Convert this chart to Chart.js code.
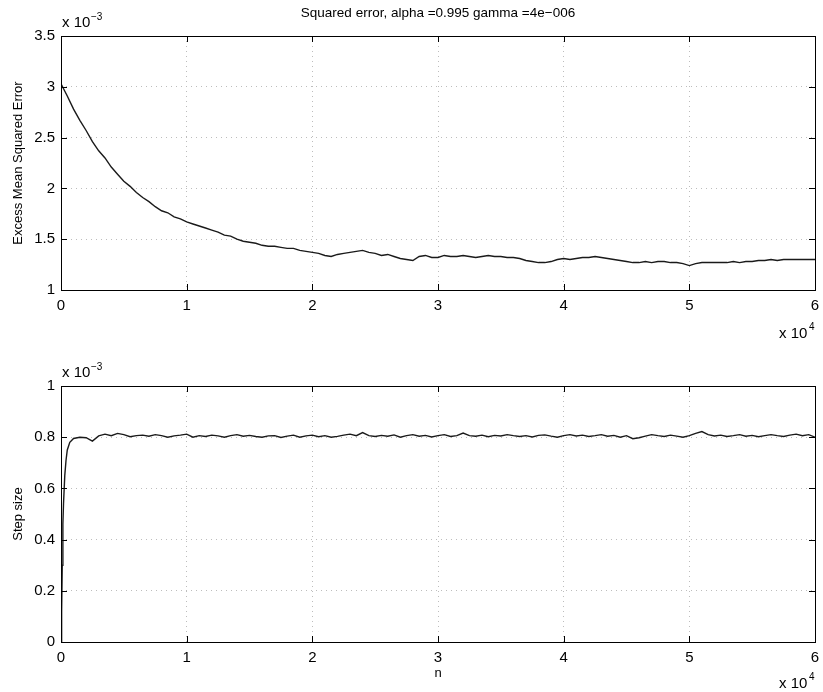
<!DOCTYPE html>
<html>
<head>
<meta charset="utf-8">
<script src="https://cdn.jsdelivr.net/npm/chart.js@4.4.1/dist/chart.umd.min.js"></script>
<style>
  html, body { margin: 0; padding: 0; background: #fff; }
  #wrap { position: relative; width: 823px; height: 692px; }
  .box { position: absolute; left: 0; width: 823px; height: 346px; }
</style>
</head>
<body>
<div id="wrap">
  <div class="box" style="top:0"><canvas id="mse-chart" width="823" height="346"></canvas></div>
  <div class="box" style="top:346px"><canvas id="step-chart" width="823" height="346"></canvas></div>
</div>
<script>
// n in units of 1e4, values in units of 1e-3
const mseN = [
  0, 0.05, 0.1, 0.15, 0.2, 0.25, 0.3, 0.35, 0.4, 0.45,
  0.5, 0.55, 0.6, 0.65, 0.7, 0.75, 0.8, 0.85, 0.9, 0.95,
  1, 1.05, 1.1, 1.15, 1.2, 1.25, 1.3, 1.35, 1.4, 1.45,
  1.5, 1.55, 1.6, 1.65, 1.7, 1.75, 1.8, 1.85, 1.9, 1.95,
  2, 2.05, 2.1, 2.15, 2.2, 2.25, 2.3, 2.35, 2.4, 2.45,
  2.5, 2.55, 2.6, 2.65, 2.7, 2.75, 2.8, 2.85, 2.9, 2.95,
  3, 3.05, 3.1, 3.15, 3.2, 3.25, 3.3, 3.35, 3.4, 3.45,
  3.5, 3.55, 3.6, 3.65, 3.7, 3.75, 3.8, 3.85, 3.9, 3.95,
  4, 4.05, 4.1, 4.15, 4.2, 4.25, 4.3, 4.35, 4.4, 4.45,
  4.5, 4.55, 4.6, 4.65, 4.7, 4.75, 4.8, 4.85, 4.9, 4.95,
  5, 5.05, 5.1, 5.15, 5.2, 5.25, 5.3, 5.35, 5.4, 5.45,
  5.5, 5.55, 5.6, 5.65, 5.7, 5.75, 5.8, 5.85, 5.9, 5.95,
  6
];
const mseValues = [
  3.03, 2.91, 2.78, 2.67, 2.57, 2.46, 2.37, 2.30, 2.21, 2.14,
  2.07, 2.02, 1.96, 1.91, 1.87, 1.82, 1.78, 1.76, 1.72, 1.70,
  1.67, 1.65, 1.63, 1.61, 1.59, 1.57, 1.54, 1.53, 1.50, 1.48,
  1.47, 1.46, 1.44, 1.43, 1.43, 1.42, 1.41, 1.41, 1.39, 1.38,
  1.37, 1.36, 1.34, 1.33, 1.35, 1.36, 1.37, 1.38, 1.39, 1.37,
  1.36, 1.34, 1.35, 1.33, 1.31, 1.30, 1.29, 1.33, 1.34, 1.32,
  1.32, 1.34, 1.33, 1.33, 1.34, 1.33, 1.32, 1.33, 1.34, 1.33,
  1.33, 1.32, 1.32, 1.31, 1.29, 1.28, 1.27, 1.27, 1.28, 1.30,
  1.31, 1.30, 1.31, 1.32, 1.32, 1.33, 1.32, 1.31, 1.30, 1.29,
  1.28, 1.27, 1.27, 1.28, 1.27, 1.28, 1.28, 1.27, 1.27, 1.26,
  1.24, 1.26, 1.27, 1.27, 1.27, 1.27, 1.27, 1.28, 1.27, 1.28,
  1.28, 1.29, 1.29, 1.30, 1.29, 1.30, 1.30, 1.30, 1.30, 1.30,
  1.30
];

const stepN = [
  0, 0.005, 0.01, 0.015, 0.02, 0.03, 0.04, 0.05, 0.07, 0.1,
  0.15, 0.2, 0.25, 0.3, 0.35, 0.4, 0.45, 0.5, 0.55, 0.6,
  0.65, 0.7, 0.75, 0.8, 0.85, 0.9, 0.95, 1, 1.05, 1.1,
  1.15, 1.2, 1.25, 1.3, 1.35, 1.4, 1.45, 1.5, 1.55, 1.6,
  1.65, 1.7, 1.75, 1.8, 1.85, 1.9, 1.95, 2, 2.05, 2.1,
  2.15, 2.2, 2.25, 2.3, 2.35, 2.4, 2.45, 2.5, 2.55, 2.6,
  2.65, 2.7, 2.75, 2.8, 2.85, 2.9, 2.95, 3, 3.05, 3.1,
  3.15, 3.2, 3.25, 3.3, 3.35, 3.4, 3.45, 3.5, 3.55, 3.6,
  3.65, 3.7, 3.75, 3.8, 3.85, 3.9, 3.95, 4, 4.05, 4.1,
  4.15, 4.2, 4.25, 4.3, 4.35, 4.4, 4.45, 4.5, 4.55, 4.6,
  4.65, 4.7, 4.75, 4.8, 4.85, 4.9, 4.95, 5, 5.05, 5.1,
  5.15, 5.2, 5.25, 5.3, 5.35, 5.4, 5.45, 5.5, 5.55, 5.6,
  5.65, 5.7, 5.75, 5.8, 5.85, 5.9, 5.95, 6
];
const stepValues = [
  0, 0.12, 0.30, 0.46, 0.54, 0.65, 0.71, 0.75, 0.78, 0.795,
  0.80, 0.798, 0.785, 0.805, 0.812, 0.806, 0.815, 0.81, 0.802, 0.806,
  0.808, 0.804, 0.81, 0.806, 0.80, 0.805, 0.808, 0.812, 0.80, 0.806,
  0.803, 0.808, 0.805, 0.80, 0.806, 0.81, 0.804, 0.807, 0.803, 0.80,
  0.805, 0.806, 0.799, 0.804, 0.808, 0.80, 0.805, 0.808, 0.802, 0.806,
  0.80, 0.803, 0.808, 0.812, 0.806, 0.818, 0.806, 0.803, 0.807, 0.804,
  0.809, 0.80, 0.806, 0.81, 0.804, 0.807, 0.801, 0.806, 0.81, 0.803,
  0.806, 0.816, 0.806, 0.804, 0.808, 0.802, 0.807, 0.805, 0.81, 0.806,
  0.803, 0.806, 0.801, 0.807, 0.809, 0.804, 0.80, 0.806, 0.81, 0.805,
  0.808, 0.803, 0.806, 0.81, 0.804, 0.807, 0.80, 0.806, 0.794, 0.798,
  0.804, 0.81, 0.806, 0.803, 0.808, 0.804, 0.80, 0.806, 0.815, 0.822,
  0.81, 0.805, 0.808, 0.803, 0.806, 0.81, 0.804, 0.807, 0.802, 0.806,
  0.81, 0.806, 0.803, 0.808, 0.812, 0.806, 0.81, 0.80
];

const xTicks = [0, 1, 2, 3, 4, 5, 6];
const mseTicks = [1, 1.5, 2, 2.5, 3, 3.5];
const stepTicks = [0, 0.2, 0.4, 0.6, 0.8, 1];

const titleText = "Squared error, alpha =0.995 gamma =4e\u2212006";
const FONT = "'Liberation Sans', Arial, Helvetica, sans-serif";

// =========================
// MATLAB-like frame, inward ticks, exponent labels
// =========================
const framePlugin = {
  id: "frame",
  afterDraw(chart, args, opts) {
    const { ctx, chartArea: a } = chart;
    const xs = chart.scales.x, ys = chart.scales.y;
    ctx.save();
    ctx.strokeStyle = "#000";
    ctx.lineWidth = 1;
    ctx.strokeRect(a.left + 0.5, a.top + 0.5, a.right - a.left, a.bottom - a.top);
    ctx.beginPath();
    xs.ticks.forEach(t => {
      const px = Math.round(xs.getPixelForValue(t.value)) + 0.5;
      ctx.moveTo(px, a.bottom); ctx.lineTo(px, a.bottom - 6);
      ctx.moveTo(px, a.top); ctx.lineTo(px, a.top + 6);
    });
    ys.ticks.forEach(t => {
      const py = Math.round(ys.getPixelForValue(t.value)) + 0.5;
      ctx.moveTo(a.left, py); ctx.lineTo(a.left + 6, py);
      ctx.moveTo(a.right, py); ctx.lineTo(a.right - 6, py);
    });
    ctx.stroke();

    ctx.fillStyle = "#000";
    ctx.textBaseline = "alphabetic";
    ctx.textAlign = "left";
    // y exponent
    ctx.font = "15px " + FONT;
    ctx.fillText("x 10", a.left + 1, a.top - 9);
    ctx.font = "10px " + FONT;
    ctx.fillText("\u22123", a.left + 30, a.top - 16);
    // x exponent
    ctx.font = "15px " + FONT;
    ctx.fillText("x 10", 779, opts.xExpY);
    ctx.font = "10px " + FONT;
    ctx.fillText("4", 809, opts.xExpY - 8);

    if (opts.title) {
      ctx.font = "13.5px " + FONT;
      ctx.textAlign = "center";
      ctx.fillText(opts.title, (a.left + a.right) / 2, 17);
    }
    ctx.restore();
  }
};

const tickFmt = v => String(Math.round(v * 100) / 100);

function makeChart(id, xs, ys, yTicks, yLabel, opts) {
  return new Chart(document.getElementById(id), {
    type: "line",
    data: {
      datasets: [{
        data: xs.map((n, i) => ({ x: n, y: ys[i] })),
        borderColor: "#1a1a1a",
        borderWidth: 1.4,
        pointRadius: 0,
        tension: 0,
        fill: false
      }]
    },
    options: {
      responsive: false,
      animation: false,
      events: [],
      layout: { padding: { left: 0, right: 8, top: opts.top, bottom: 0 } },
      plugins: {
        legend: { display: false },
        tooltip: { enabled: false },
        frame: { xExpY: opts.xExpY, title: opts.title }
      },
      scales: {
        x: {
          type: "linear",
          min: 0, max: 6,
          afterBuildTicks: s => { s.ticks = xTicks.map(v => ({ value: v })); },
          afterFit: s => { s.height = opts.xHeight; s.paddingLeft = 0; s.paddingRight = 0; },
          grid: { color: "#bdbdbd", lineWidth: 1, drawTicks: false },
          border: { display: false, dash: [1, 4] },
          ticks: { color: "#000", padding: 7, maxRotation: 0, font: { family: FONT, size: 15 }, callback: tickFmt },
          title: {
            display: !!opts.xLabel, text: opts.xLabel || "", color: "#000",
            font: { family: FONT, size: 13 }, padding: { top: 0, bottom: 11 }
          }
        },
        y: {
          type: "linear",
          min: yTicks[0], max: yTicks[yTicks.length - 1],
          afterBuildTicks: s => { s.ticks = yTicks.map(v => ({ value: v })); },
          afterFit: s => { s.width = 61; s.paddingTop = 0; s.paddingBottom = 0; },
          grid: { color: "#bdbdbd", lineWidth: 1, drawTicks: false },
          border: { display: false, dash: [1, 4] },
          ticks: { color: "#000", padding: 6, font: { family: FONT, size: 15 }, callback: tickFmt },
          title: {
            display: true, text: yLabel, color: "#000",
            font: { family: FONT, size: 13 }, padding: { top: 11, bottom: 0 }
          }
        }
      }
    },
    plugins: [framePlugin]
  });
}

document.addEventListener("DOMContentLoaded", () => {
  makeChart("mse-chart", mseN, mseValues, mseTicks, "Excess Mean Squared Error",
    { top: 36, xHeight: 56, xExpY: 338, title: titleText });
  makeChart("step-chart", stepN, stepValues, stepTicks, "Step size",
    { top: 40, xHeight: 50, xExpY: 342, xLabel: "n" });
});
</script>
</body>
</html>
